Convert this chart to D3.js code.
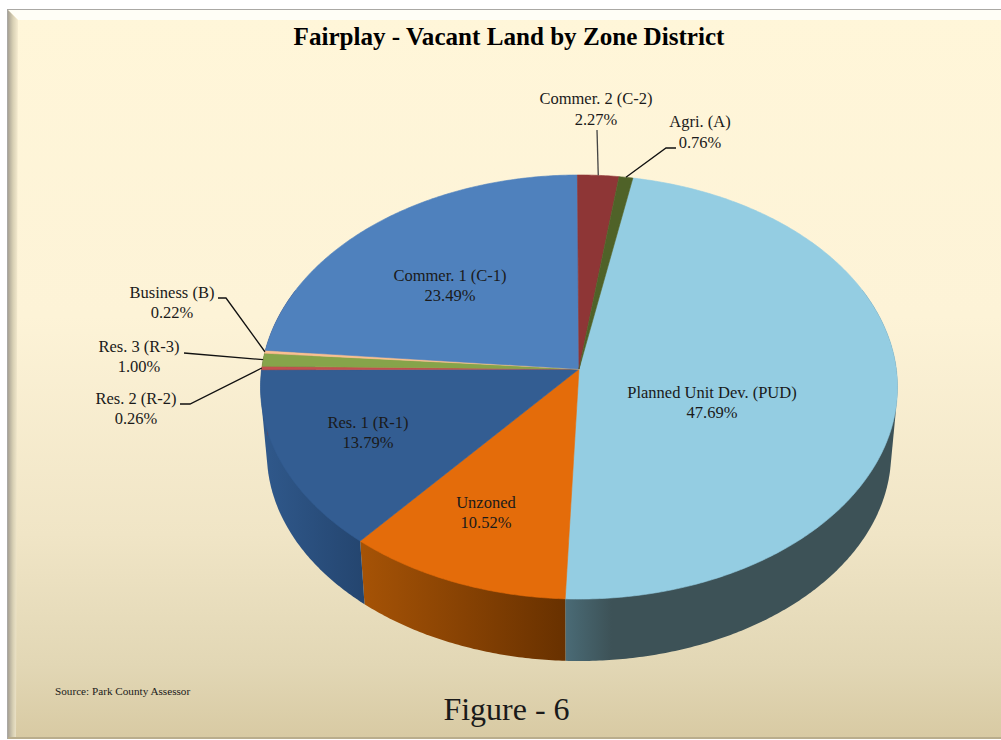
<!DOCTYPE html>
<html><head><meta charset="utf-8">
<script src="https://cdn.jsdelivr.net/npm/d3@7"></script>
<style>html,body{margin:0;padding:0;background:#fff;overflow:hidden}svg{display:block}text{font-family:"Liberation Serif",serif;fill:#1a1a1a}</style>
</head><body><svg id="c" width="1001" height="740"></svg>
<script>
// DATA
const categories = ["Planned Unit Dev. (PUD)","Unzoned","Res. 1 (R-1)","Res. 2 (R-2)","Res. 3 (R-3)","Business (B)","Commer. 1 (C-1)","Commer. 2 (C-2)","Agri. (A)"];
const shares = [47.69,10.52,13.79,0.26,1.00,0.22,23.49,2.27,0.76];
const pctLabels = ["47.69%","10.52%","13.79%","0.26%","1.00%","0.22%","23.49%","2.27%","0.76%"];
const title = "Fairplay - Vacant Land by Zone District";
const source = "Source: Park County Assessor";
const figure = "Figure - 6";

// STYLE / LAYOUT
const topColors = ["#94cde2","#e46c0a","#335d92","#c0504d","#86a44a","#fac090","#4f81bd","#8e3636","#4f6228"];
const wallLeft  = ["#4a6b76","#a65306","#30598c","#8a3a38","#5f7535","#b08a66","#38608c","#662626","#38461c"];
const wallRight = ["#3d5257","#683100","#24456f","#6e2e2c","#4e602c","#8a6c50","#2a486a","#4e1d1d","#2a3415"];
const labelPos = [[712,398,418],[486,508,528],[368,428,448],[136,404,424],[139,352,372],[172,298,318],[450,281,301],[596,104,125],[700,127,148]];
const leaders = {3:[[180,404],[190,404]],4:[[184,353]],5:[[218,298],[226,298]],7:[[597,130]],8:[[676,148],[666,148]]};
const cx=579, cy=369, A=317.35, B=210.5, k=0.0849, lowS=0.98, lowD=66.6;
const startDeg=10.6;

const svg=d3.select("#c"), defs=svg.append("defs");
const bg=defs.append("linearGradient").attr("id","bg").attr("x1",0).attr("x2",0).attr("y1",0).attr("y2",1);
[[0,"#fff6d9"],[.42,"#fdf3d7"],[.72,"#f0e5c6"],[.9,"#e2d7b5"],[1,"#d8caa3"]].forEach(s=>bg.append("stop").attr("offset",s[0]).attr("stop-color",s[1]));
const lb=defs.append("linearGradient").attr("id","lb").attr("x1",0).attr("x2",1).attr("y1",0).attr("y2",0);
[[0,"#a8a294"],[.5,"#d8d0b4"],[1,"#f6ecd0"]].forEach(s=>lb.append("stop").attr("offset",s[0]).attr("stop-color",s[1]));

// frame
svg.append("rect").attr("x",7).attr("y",9).attr("width",994).attr("height",730).attr("fill","#aaa8a4");
svg.append("rect").attr("x",8).attr("y",10).attr("width",993).attr("height",728).attr("fill","url(#bg)");
svg.append("path").attr("d",d3.line()([[8,10],[1001,10],[1001,20],[18,20]])+"Z").attr("fill","#fffef6");
svg.append("path").attr("d",d3.line()([[8,10],[18,20],[16,738],[8,738]])+"Z").attr("fill","url(#lb)");
svg.append("rect").attr("x",8).attr("y",737).attr("width",993).attr("height",2).attr("fill","#b9ad8c");

// perspective projection of the pie disc
function proj(a,low){const u=Math.sin(a),v=-Math.cos(a),w=1-k*v;
  let x=A*u/w,y=B*v/w; if(low){x*=lowS;y=y*lowS+lowD;} return [cx+x,cy+y];}
function arcPts(a0,a1,low){const n=Math.max(2,Math.ceil(Math.abs(a1-a0)/0.01));
  return d3.range(n+1).map(i=>proj(a0+(a1-a0)*i/n,low));}

const t0=startDeg*Math.PI/180;
const pie=d3.pie().sort(null).value(d=>d).startAngle(t0).endAngle(t0+2*Math.PI);
const arcs=pie(shares);
const line=d3.line();

// side walls
const wallG=svg.append("g");
const frontA=Math.PI/2, frontB=3*Math.PI/2, ext=0.4;
arcs.forEach((d,i)=>{
  const a0=Math.max(d.startAngle,frontA), a1=Math.min(d.endAngle,frontB);
  if(a1<=a0) return;
  // the upper rim runs on past the side of the disc so the hull gives the tangent silhouette
  const ua0=a0===frontA?a0-ext:a0, ua1=a1>=frontB-0.02?a1+ext:a1;
  const up=arcPts(ua0,ua1,false), lo=arcPts(a0,a1,true);
  const xs=up.concat(lo).map(p=>p[0]);
  const gid="w"+i;
  const g=defs.append("linearGradient").attr("id",gid).attr("gradientUnits","userSpaceOnUse")
    .attr("x1",d3.min(xs)).attr("x2",d3.max(xs)).attr("y1",0).attr("y2",0);
  g.append("stop").attr("offset",0).attr("stop-color",wallLeft[i]);
  if(i===0) g.append("stop").attr("offset",.14).attr("stop-color",wallRight[i]);
  g.append("stop").attr("offset",1).attr("stop-color",wallRight[i]);
  wallG.append("path").attr("d",line(d3.polygonHull(up.concat(lo)))+"Z").attr("fill",`url(#${gid})`);
});

// top faces
const topG=svg.append("g");
arcs.forEach((d,i)=>{
  topG.append("path").attr("d",line([[cx,cy]].concat(arcPts(d.startAngle,d.endAngle,false)))+"Z")
    .attr("fill",topColors[i]).attr("stroke",topColors[i]).attr("stroke-width",.6);
});

// leaders
Object.keys(leaders).forEach(key=>{const i=+key,d=arcs[i],m=(d.startAngle+d.endAngle)/2;
  svg.append("path").attr("d",line(leaders[i].concat([proj(m,false)]))).attr("fill","none")
    .attr("stroke",i===7?"#444":"#111").attr("stroke-width",1.3);
});

// labels
categories.forEach((c,i)=>{const p=labelPos[i];
  svg.append("text").attr("x",p[0]).attr("y",p[1]).attr("text-anchor","middle").attr("font-size",16.5).text(c);
  svg.append("text").attr("x",p[0]).attr("y",p[2]).attr("text-anchor","middle").attr("font-size",16.5).text(pctLabels[i]);
});
svg.append("text").attr("x",509).attr("y",45).attr("text-anchor","middle").attr("font-size",25.1).attr("font-weight","bold").style("fill","#000").text(title);
svg.append("text").attr("x",55).attr("y",695).attr("font-size",11.2).text(source);
svg.append("text").attr("x",506.5).attr("y",720).attr("text-anchor","middle").attr("font-size",32).text(figure);
</script></body></html>
